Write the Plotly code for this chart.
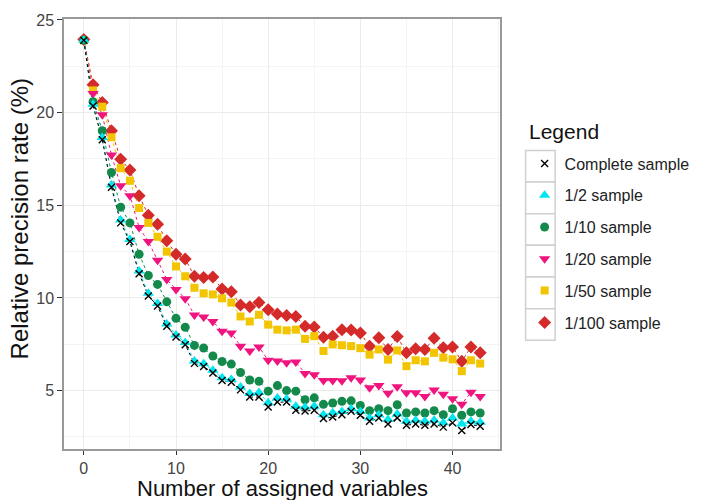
import plotly.graph_objects as go

x_vals = list(range(44))

complete = [23.9, 20.36, 18.54, 15.97, 14.05, 13.04, 11.31, 10.11, 9.57, 8.47, 7.89, 7.48, 6.47, 6.3, 5.95,
            5.54, 5.45, 5.04, 4.65, 4.65, 4.12, 4.38, 4.38, 3.94, 3.9, 3.94, 3.49, 3.58, 3.7, 3.88,
            3.67, 3.35, 3.52, 3.2, 3.52, 3.13, 3.2, 3.13, 3.2, 3.03, 3.26, 2.85, 3.17, 3.08]
half = [23.9, 20.45, 18.65, 16.1, 14.2, 13.15, 11.45, 10.25, 9.7, 8.6, 8.0, 7.6, 6.6, 6.45, 6.1,
        5.7, 5.6, 5.2, 4.85, 4.9, 4.35, 4.6, 4.55, 4.15, 4.1, 4.15, 3.7, 3.8, 3.88, 4.02,
        3.88, 3.52, 3.7, 3.44, 3.74, 3.35, 3.4, 3.35, 3.4, 3.26, 3.52, 3.2, 3.35, 3.29]
tenth = [23.9, 20.59, 19.02, 16.77, 14.9, 14.05, 12.36, 11.21, 10.73, 9.79, 8.9, 8.42, 7.44, 7.3, 6.87,
         6.57, 6.43, 5.98, 5.57, 5.5, 4.97, 5.27, 5.0, 4.97, 4.51, 4.61, 4.26, 4.33, 4.42, 4.45,
         4.2, 3.92, 4.02, 3.92, 4.24, 3.79, 3.85, 3.79, 3.92, 3.7, 4.02, 3.67, 3.85, 3.79]
twentieth = [23.9, 21.03, 19.88, 17.71, 16.06, 15.52, 13.8, 13.04, 12.03, 11.0, 10.46, 9.96, 9.08, 8.97, 8.73,
             8.2, 8.11, 7.4, 7.14, 7.35, 6.64, 6.6, 6.51, 6.55, 5.93, 5.86, 5.54, 5.54, 5.53, 5.7,
             5.57, 5.16, 5.27, 4.86, 5.21, 4.89, 4.89, 4.68, 5.04, 4.8, 4.56, 4.27, 4.91, 4.68]
fiftieth = [23.9, 21.2, 20.32, 18.67, 17.0, 16.32, 14.85, 14.05, 13.3, 12.5, 11.7, 11.17, 10.55, 10.25, 10.19,
            9.98, 9.75, 9.0, 8.73, 9.09, 8.56, 8.29, 8.25, 8.29, 7.79, 7.94, 7.14, 7.49, 7.45, 7.4,
            7.29, 6.94, 7.22, 6.67, 7.17, 6.32, 6.64, 6.58, 7.04, 6.78, 6.69, 6.05, 6.64, 6.46]
hundredth = [23.95, 21.5, 20.55, 19.02, 17.48, 16.9, 15.52, 14.46, 13.98, 13.09, 12.36, 12.1, 11.17, 11.1, 11.13,
             10.48, 10.33, 9.62, 9.53, 9.75, 9.36, 9.13, 9.05, 9.0, 8.47, 8.43, 7.88, 7.94, 8.28, 8.27,
             8.11, 7.4, 7.85, 7.22, 7.92, 7.04, 7.26, 7.22, 7.83, 7.31, 7.35, 6.58, 7.35, 7.04]

series_names = ["Complete sample", "1/2 sample", "1/10 sample", "1/20 sample", "1/50 sample", "1/100 sample"]
series_values = [complete, half, tenth, twentieth, fiftieth, hundredth]
colors = ["#000000", "#00E5EE", "#138A4C", "#F0147F", "#F2C500", "#D42A2A"]
symbols = ["x-thin-open", "triangle-up", "circle", "triangle-down", "square", "diamond"]
sizes = [7, 10, 9, 10, 8, 10]

fig = go.Figure()
# dotted connecting lines (no legend entries)
for i in reversed(range(len(series_names))):
    fig.add_trace(go.Scatter(
        x=x_vals, y=series_values[i], mode="lines", showlegend=False, hoverinfo="skip",
        line=dict(color=colors[i], width=1, dash="dot"),
    ))
# points, drawn from last to first so black crosses sit on top
for i in reversed(range(len(series_names))):
    mk = dict(color=colors[i], symbol=symbols[i], size=sizes[i])
    if symbols[i] == "x-thin-open":
        mk["line"] = dict(color=colors[i], width=1.4)
    fig.add_trace(go.Scatter(
        x=x_vals, y=series_values[i], name=series_names[i], mode="markers",
        marker=mk, legendrank=i + 1, legendgroup=series_names[i],
    ))

FONT = "Liberation Sans, Arial, sans-serif"

L, T, W, H = 64, 14, 443, 435
def px(xp):
    return (xp - L) / W
def py(yp):
    return (T + H - yp) / H

# legend key boxes
shapes = []
row_edges = [147, 179, 211, 243, 275, 307, 339]
for j in range(6):
    shapes.append(dict(type="rect", xref="paper", yref="paper",
                       x0=px(533), x1=px(563), y0=py(row_edges[j + 1]), y1=py(row_edges[j]),
                       line=dict(color="#d0d0d0", width=1.5), fillcolor="white", layer="below"))

fig.update_layout(
    width=707, height=500,
    margin=dict(l=L, r=707 - L - W, t=T, b=500 - T - H),
    paper_bgcolor="white", plot_bgcolor="white",
    font=dict(family=FONT, color="#222"),
    showlegend=True,
    legend=dict(
        font=dict(size=16, color="#222"),
        x=px(532), xanchor="left", y=py(143), yanchor="top",
        bgcolor="rgba(0,0,0,0)", tracegroupgap=8, traceorder="grouped",
    ),
    shapes=shapes,
    annotations=[
        dict(text="Legend", xref="paper", yref="paper",
             x=px(534), y=py(128), xanchor="left", yanchor="middle", showarrow=False,
             font=dict(size=21, color="#111")),
        dict(text="Number of assigned variables", xref="paper", yref="paper",
             x=0.5, y=py(489), xanchor="center", yanchor="middle", showarrow=False,
             font=dict(size=22, color="#111")),
        dict(text="Relative precision rate (%)", xref="paper", yref="paper", textangle=-90,
             x=px(19), y=py(216), xanchor="center", yanchor="middle", showarrow=False,
             font=dict(size=24, color="#111")),
    ],
)

fig.update_xaxes(
    range=[-2.15, 45.15], tickvals=[0, 10, 20, 30, 40], ticks="outside", ticklen=4,
    tickcolor="#333", tickwidth=1, tickfont=dict(size=16, color="#444"),
    showgrid=True, gridcolor="#ebebeb", gridwidth=1,
    minor=dict(tickvals=[5, 15, 25, 35, 45], showgrid=True, gridcolor="#f4f4f4", gridwidth=1),
    showline=True, linecolor="#999", linewidth=1.5, mirror=True, zeroline=False,
)
fig.update_yaxes(
    range=[1.85, 25.05], tickvals=[5, 10, 15, 20, 25], ticks="outside", ticklen=5,
    tickcolor="#333", tickwidth=1, tickfont=dict(size=16, color="#444"),
    showgrid=True, gridcolor="#ebebeb", gridwidth=1,
    minor=dict(tickvals=[2.5, 7.5, 12.5, 17.5, 22.5], showgrid=True, gridcolor="#f4f4f4", gridwidth=1),
    showline=True, linecolor="#999", linewidth=1.5, mirror=True, zeroline=False,
)

fig.write_html("out.html")
